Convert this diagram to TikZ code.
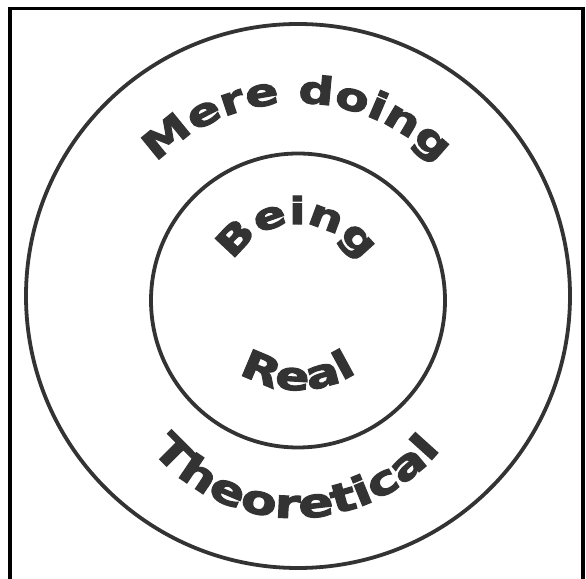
\documentclass[tikz,border=0pt]{standalone}
\usepackage{fontspec}
\usetikzlibrary{decorations.text}
\newfontfamily\lblfont[FakeStretch=1.3,FakeBold=3]{DejaVu Sans Bold}
\definecolor{ink}{HTML}{333333}
\tikzset{
  ring/.style={draw=ink, line width=3.8pt},
  frameline/.style={draw=black, line width=3.3pt},
  arclabel/.style 2 args={decorate, decoration={text along path, text align=center,
    text={|\fontsize{#2}{#2}\lblfont\color{ink}|#1}}}
}
\begin{document}
\begin{tikzpicture}[x=1pt,y=1pt]
\useasboundingbox (0,0) rectangle (586,578);
% frame (open at the bottom)
\draw[frameline] (10,-5) -- (10,569.5) -- (583,569.5) -- (583,-5);
% circles
\draw[ring] (298,282) circle[radius=272];
\draw[ring] (298,277.5) circle[radius=147];
% curved labels
\path[arclabel={Mere doing}{38}] (297,281) ++(180:194) arc[start angle=180, end angle=0, radius=194];
\path[arclabel={Being}{37}] (297,282) ++(180:72) arc[start angle=180, end angle=0, radius=72];
\path[arclabel={Real}{39}] (298,296) ++(220:108) arc[start angle=220, end angle=320, radius=108];
\path[arclabel={Theoretical}{40}] (296,247) ++(200:187) arc[start angle=200, end angle=340, radius=187];
\end{tikzpicture}
\end{document}
